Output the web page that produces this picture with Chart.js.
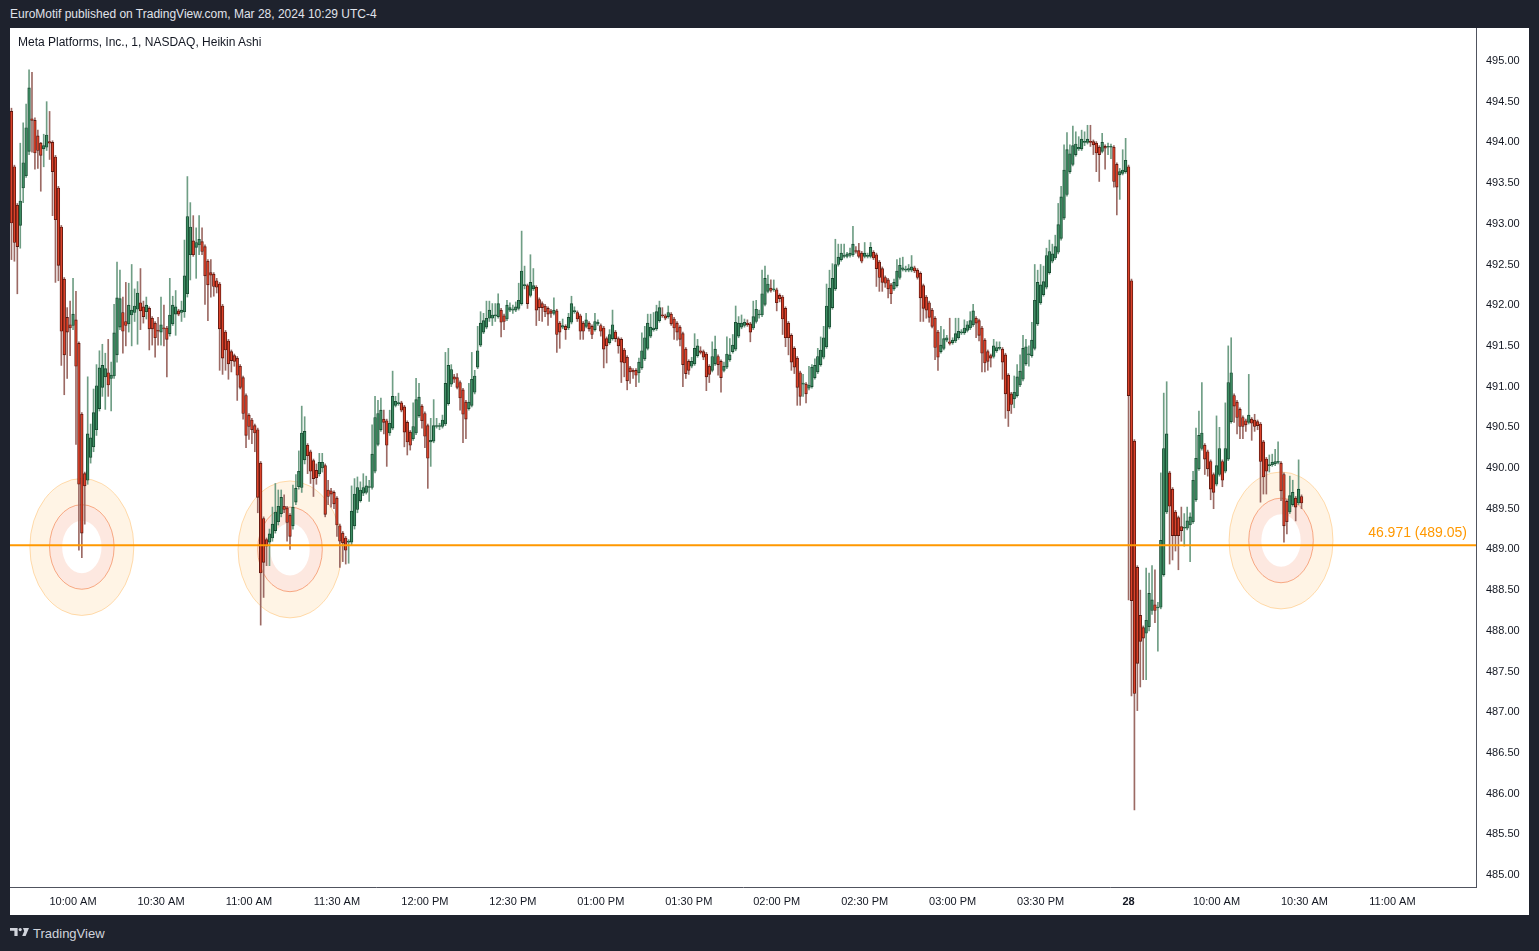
<!DOCTYPE html>
<html>
<head>
<meta charset="utf-8">
<title>Meta Platforms, Inc., 1, NASDAQ, Heikin Ashi</title>
<script src="https://cdn.jsdelivr.net/npm/chart.js@4.4.1/dist/chart.umd.min.js"></script>
<style>
  html, body { margin:0; padding:0; width:1539px; height:951px; background:#1e222d; overflow:hidden; font-family:"Liberation Sans", Arial, sans-serif; }
  #hdr { position:absolute; left:10px; top:6px; font-size:12px; line-height:16px; color:#e0e3eb; white-space:nowrap; }
  #panel { position:absolute; left:10px; top:28px; width:1519px; height:887px; background:#ffffff; }
  #panel canvas { position:absolute; left:0; top:0; }
  #title { position:absolute; left:8px; top:7px; font-size:12px; line-height:14px; color:#131722; white-space:nowrap; }
  #foot { position:absolute; left:10px; top:925px; height:16px; display:flex; align-items:center; color:#d1d4dc; font-size:13px; }
  #foot svg { margin-right:4px; margin-top:-2px; }
</style>
</head>
<body>
<div id="hdr">EuroMotif published on TradingView.com, Mar 28, 2024 10:29 UTC-4</div>
<div id="panel"><canvas id="c" width="1519" height="887"></canvas><div id="title">Meta Platforms, Inc., 1, NASDAQ, Heikin Ashi</div></div>
<div id="foot"><svg width="19" height="8" viewBox="0 0 19 8"><path d="M0 0H7.6V8H4.4V2.8H0Z" fill="#d1d4dc"/><circle cx="10.2" cy="1.6" r="1.6" fill="#d1d4dc"/><path d="M13 0H19L15.6 8H12.2L14.2 3.2Z" fill="#d1d4dc"/></svg><span>TradingView</span></div>
<script>
// ---- Heikin Ashi 1-minute candles, Mar 27 (09:39 - 15:59) ----
const openD1 = [
494.38,493.70,493.23,492.98,493.44,493.59,493.89,494.29,494.27,494.08,
493.99,493.92,493.94,494.01,494.00,493.82,493.44,492.96,492.32,491.85,
491.76,491.75,491.82,491.53,490.66,489.93,489.85,490.13,490.26,490.47,
490.73,490.99,491.12,491.17,491.10,491.13,491.39,491.73,491.91,491.80,
491.77,491.88,491.91,491.95,492.03,491.98,491.92,491.96,491.84,491.78,
491.69,491.67,491.72,491.72,491.65,491.77,491.89,491.93,491.91,491.92,
492.14,492.62,492.79,492.71,492.74,492.78,492.72,492.54,492.40,492.38,
492.30,492.26,491.99,491.67,491.56,491.43,491.38,491.35,491.25,
491.11,490.89,490.65,490.59,490.52,490.47,490.06,489.38,489.12,489.09,
489.14,489.23,489.34,489.44,489.53,489.51,489.42,489.29,489.58,489.77,
489.76,490.10,490.28,490.20,490.09,489.97,489.93,490.00,490.03,489.73,
489.72,489.70,489.63,489.29,489.20,489.14,489.09,489.09,489.29,489.49,
489.60,489.69,489.70,489.76,489.76,489.96,490.29,490.47,490.60,490.58,
490.43,490.49,490.77,490.79,490.80,490.75,490.56,490.44,490.36,490.43,
490.64,490.76,490.67,490.52,490.32,490.33,490.51,490.51,490.51,490.54,
490.79,491.03,491.12,491.11,491.05,490.96,490.81,490.73,490.77,490.93,
491.24,491.51,491.67,491.73,491.84,
491.84,491.87,491.86,491.94,491.87,491.83,491.94,491.94,491.94,491.96,
492.02,492.24,492.24,492.12,492.20,492.22,492.07,492.02,491.99,491.96,
491.93,491.90,491.93,491.78,491.73,491.74,491.72,491.79,491.92,491.91,
491.87,491.78,491.74,491.78,491.74,491.70,491.77,491.75,491.72,491.59,
491.54,491.59,491.67,491.59,491.58,491.45,491.36,491.23,491.20,491.20,
491.17,491.23,491.34,491.47,491.62,491.70,491.71,491.81,491.88,491.87,
491.86,491.89,491.83,491.78,491.73,491.65,491.46,491.31,491.25,491.28,
491.38,491.44,491.43,491.40,491.25,491.20,491.28,491.37,491.31,491.20,
491.24,491.33,
491.43,491.46,491.62,491.73,491.75,491.78,491.77,491.72,491.80,491.88,
491.88,492.01,492.17,492.21,492.19,492.19,492.12,492.10,491.96,491.78,
491.63,491.47,491.35,491.17,491.03,491.03,490.98,491.00,491.11,491.18,
491.27,491.36,491.49,491.73,491.97,492.20,492.50,492.56,492.60,492.60,
492.61,492.62,492.67,492.67,492.64,492.60,492.60,492.60,492.65,492.62,
492.53,492.45,492.34,492.31,492.25,492.20,492.24,492.34,492.44,492.43,
492.43,492.43,492.46,492.43,492.39,492.24,492.10,492.03,491.94,491.84,
491.67,491.43,491.47,491.57,491.55,491.54,491.56,491.60,491.66,491.66,
491.69,
491.72,491.76,491.84,491.81,491.72,491.57,491.43,491.38,491.37,491.44,
491.47,491.46,491.39,491.14,490.91,490.85,490.89,491.02,491.09,491.28,
491.39,491.38,491.47,491.77,492.03,492.13,492.22,492.40,492.54,492.58,
492.65,492.82,493.07,493.36,493.64,493.73,493.85,493.92,493.92,494.00,
494.00,494.01,494.01,493.99,493.94,493.89,493.95,493.94,493.94,493.94,
493.73,493.60,493.62,493.64
];
const highD1 = [
494.42,493.72,493.25,493.99,494.24,494.47,494.89,494.86,494.30,494.15,
494.00,494.10,494.50,494.38,494.02,493.84,493.46,492.98,492.34,491.97,
492.05,492.33,492.17,491.55,490.68,489.95,491.12,490.54,490.97,491.27,
491.44,491.52,491.41,491.58,491.30,492.01,492.53,492.43,492.10,492.28,
492.27,492.50,492.20,492.29,492.45,492.05,492.10,491.98,491.86,491.80,
491.85,492.10,492.00,491.74,492.33,492.11,492.18,491.95,492.05,492.80,
493.58,493.26,493.10,492.95,493.10,492.95,492.74,492.56,492.56,492.40,
492.33,492.28,492.01,491.69,491.58,491.45,491.40,491.37,491.27,
491.13,490.91,490.67,490.61,490.54,490.49,490.08,489.40,489.14,489.25,
489.52,489.81,489.73,489.73,489.67,489.53,489.44,489.79,489.92,490.21,
490.76,490.63,490.30,490.22,490.11,490.05,490.18,490.18,490.05,489.85,
489.75,489.72,489.65,489.31,489.22,489.16,489.12,489.78,489.87,489.89,
489.83,489.93,489.90,489.85,490.53,490.88,490.83,490.86,490.71,490.60,
490.71,491.19,490.88,490.92,490.82,490.77,490.58,490.46,490.80,491.10,
491.04,490.78,490.69,490.54,490.61,490.84,490.61,490.55,490.65,491.42,
491.47,491.27,491.15,491.16,491.07,490.98,490.83,491.04,491.42,491.20,
491.74,491.92,491.90,492.05,492.05,
492.02,492.02,492.14,491.96,491.89,492.06,492.03,492.00,492.04,492.27,
492.91,492.48,492.26,492.62,492.45,492.24,492.09,492.04,492.01,491.98,
491.95,492.09,491.95,491.80,491.83,491.76,491.90,492.11,491.98,491.93,
491.89,491.80,491.90,491.80,491.76,491.90,491.82,491.77,491.74,491.61,
491.70,491.94,491.69,491.61,491.60,491.47,491.38,491.25,491.22,491.22,
491.35,491.66,491.74,491.89,491.89,491.91,492.00,492.05,491.97,491.89,
491.99,491.91,491.85,491.80,491.75,491.67,491.48,491.33,491.36,491.65,
491.58,491.49,491.45,491.42,491.27,491.55,491.62,491.39,491.33,491.30,
491.61,491.59,
491.64,491.99,491.86,491.88,491.83,491.82,491.79,492.05,492.06,491.94,
492.43,492.48,492.37,492.31,492.31,492.21,492.14,492.12,491.98,491.80,
491.65,491.49,491.37,491.19,491.15,491.05,491.25,491.27,491.34,491.47,
491.61,491.74,492.26,492.43,492.51,492.81,492.75,492.75,492.75,492.65,
492.70,492.97,492.72,492.76,492.66,492.77,492.64,492.77,492.67,492.64,
492.55,492.47,492.36,492.33,492.27,492.32,492.56,492.58,492.59,492.48,
492.50,492.61,492.48,492.45,492.41,492.26,492.12,492.05,491.96,491.86,
491.69,491.74,491.70,491.63,491.84,491.60,491.84,491.84,491.70,491.82,
491.80,
491.92,492.01,491.86,491.83,491.74,491.59,491.45,491.40,491.58,491.55,
491.55,491.48,491.41,491.16,490.93,491.13,491.27,491.39,491.63,491.58,
491.50,491.79,492.50,492.43,492.50,492.48,492.70,492.80,492.75,492.86,
493.25,493.46,493.97,494.12,493.97,494.20,494.13,494.07,494.15,494.13,
494.21,494.21,494.03,494.01,493.96,494.11,493.97,493.99,493.98,493.96,
493.75,493.68,493.91,494.05
];
const lowD1 = [
492.56,492.54,492.14,492.70,493.26,493.57,493.85,493.88,493.67,493.68,
493.40,493.70,493.90,493.79,493.10,492.28,492.30,491.26,490.90,491.10,
491.38,491.70,490.29,488.99,488.90,489.31,489.80,490.06,490.20,490.40,
490.70,490.88,490.72,490.88,490.70,491.10,491.30,491.70,491.41,491.50,
491.67,491.50,491.80,491.52,491.70,491.78,491.83,491.45,491.51,491.36,
491.51,491.51,491.50,491.12,491.62,491.75,491.63,491.87,491.80,491.85,
492.10,492.31,492.60,492.33,492.62,492.62,492.01,491.81,492.10,492.11,
492.15,491.20,491.15,491.20,491.09,491.18,491.25,490.83,490.97,
490.60,490.25,490.35,490.30,490.20,489.45,488.07,488.41,488.80,488.80,
489.10,489.20,489.30,489.40,489.45,489.10,489.00,489.25,489.55,489.74,
489.70,490.05,489.93,489.81,489.65,489.80,489.90,489.95,489.40,489.55,
489.52,489.50,489.16,488.78,488.85,488.82,488.83,489.05,489.25,489.45,
489.58,489.66,489.68,489.59,489.74,489.94,490.27,490.45,490.42,490.02,
490.40,490.47,490.75,490.77,490.69,490.26,490.16,490.22,490.34,490.41,
490.62,490.49,490.25,489.75,490.02,490.31,490.49,490.47,490.49,490.52,
490.77,491.00,491.05,490.97,490.71,490.31,490.36,490.71,490.75,490.91,
491.22,491.49,491.65,491.71,491.80,
491.75,491.80,491.84,491.61,491.70,491.81,491.92,491.90,491.92,491.94,
492.00,492.20,491.96,492.10,492.18,491.75,491.81,491.80,491.86,491.75,
491.85,491.88,491.42,491.47,491.71,491.58,491.70,491.77,491.90,491.80,
491.58,491.58,491.72,491.68,491.59,491.68,491.75,491.62,491.23,491.29,
491.52,491.57,491.55,491.41,491.05,491.12,490.96,491.04,491.10,491.00,
491.05,491.21,491.32,491.45,491.60,491.68,491.69,491.79,491.85,491.82,
491.84,491.75,491.58,491.57,491.50,491.00,491.10,491.15,491.23,491.26,
491.36,491.40,491.33,490.95,491.05,491.18,491.26,491.14,490.93,491.18,
491.22,491.31,
491.41,491.44,491.60,491.71,491.73,491.74,491.55,491.70,491.78,491.84,
491.86,491.99,492.15,492.16,492.17,491.93,492.04,491.64,491.49,491.39,
491.20,491.16,490.77,490.77,490.88,490.80,490.96,490.98,491.09,491.16,
491.25,491.34,491.47,491.71,491.95,492.18,492.48,492.54,492.58,492.58,
492.59,492.60,492.64,492.58,492.52,492.58,492.58,492.58,492.56,492.23,
492.17,492.17,492.22,492.09,492.02,492.18,492.22,492.32,492.42,492.41,
492.41,492.41,492.40,492.32,491.80,491.80,491.84,491.79,491.72,491.33,
491.20,491.41,491.45,491.55,491.51,491.52,491.54,491.58,491.64,491.64,
491.67,
491.70,491.74,491.60,491.56,491.18,491.18,491.20,491.24,491.35,491.42,
491.45,491.09,490.61,490.51,490.67,490.74,490.87,491.00,491.07,491.26,
491.25,491.36,491.45,491.75,492.01,492.11,492.20,492.38,492.52,492.56,
492.63,492.80,493.05,493.34,493.62,493.71,493.83,493.90,493.90,493.96,
493.98,493.95,493.85,493.64,493.52,493.87,493.67,493.85,493.80,493.45,
493.11,493.30,493.60,493.62
];
const closeD1 = [
493.01,492.77,492.72,493.28,493.75,494.18,494.67,494.27,493.87,493.90,
493.84,493.96,494.09,493.99,493.64,493.05,492.49,491.68,491.39,491.67,
491.72,491.89,491.25,489.80,489.20,489.78,490.42,490.37,490.68,491.01,
491.23,491.26,491.22,491.02,491.14,491.66,492.09,492.08,491.68,491.75,
492.00,491.94,491.99,492.15,491.93,491.86,492.00,491.71,491.71,491.60,
491.68,491.76,491.71,491.58,491.88,492.00,491.98,491.89,491.94,492.36,
493.09,492.96,492.62,492.77,492.81,492.66,492.36,492.25,492.37,492.23,
492.22,491.71,491.35,491.45,491.28,491.32,491.31,491.14,490.99,
490.67,490.40,490.51,490.47,490.43,489.64,488.71,488.84,489.04,489.19,
489.31,489.46,489.53,489.64,489.49,489.33,489.16,489.52,489.75,489.96,
490.43,490.45,490.15,489.96,489.87,489.88,490.07,490.07,489.43,489.65,
489.68,489.56,489.30,489.10,489.08,488.99,489.10,489.47,489.68,489.76,
489.73,489.76,489.78,489.76,490.17,490.62,490.67,490.71,490.56,490.28,
490.55,490.88,490.82,490.80,490.71,490.44,490.32,490.28,490.51,490.84,
490.87,490.58,490.39,490.12,490.34,490.52,490.52,490.51,490.59,491.04,
491.26,491.21,491.09,490.99,490.86,490.66,490.60,490.81,491.09,491.13,
491.44,491.78,491.81,491.84,491.94,
491.88,491.87,492.02,491.79,491.80,492.00,491.97,491.94,491.98,492.06,
492.42,492.25,492.02,492.28,492.24,491.94,491.97,491.97,491.92,491.89,
491.90,491.94,491.64,491.67,491.75,491.70,491.85,492.02,491.93,491.83,
491.68,491.68,491.82,491.71,491.64,491.80,491.79,491.68,491.46,491.50,
491.64,491.76,491.59,491.50,491.30,491.29,491.07,491.18,491.18,491.14,
491.30,491.44,491.60,491.78,491.73,491.72,491.92,491.97,491.87,491.84,
491.91,491.77,491.72,491.67,491.58,491.27,491.16,491.20,491.31,491.47,
491.50,491.42,491.36,491.12,491.15,491.37,491.46,491.27,491.11,491.25,
491.40,491.39,
491.51,491.79,491.78,491.78,491.79,491.76,491.67,491.86,491.95,491.88,
492.14,492.33,492.26,492.18,492.19,492.03,492.08,491.83,491.60,491.60,
491.30,491.24,490.99,490.88,491.03,490.91,491.02,491.24,491.26,491.37,
491.45,491.60,491.99,492.21,492.33,492.50,492.59,492.64,492.60,492.63,
492.64,492.75,492.66,492.60,492.54,492.64,492.60,492.71,492.58,492.45,
492.34,492.28,492.27,492.20,492.14,492.28,492.42,492.49,492.46,492.43,
492.45,492.47,492.42,492.34,492.09,491.96,491.94,491.85,491.74,491.48,
491.36,491.51,491.59,491.60,491.53,491.57,491.65,491.68,491.66,491.72,
491.76,
491.81,491.93,491.78,491.63,491.41,491.29,491.31,491.35,491.50,491.48,
491.48,491.30,490.91,490.70,490.78,490.93,491.12,491.19,491.47,491.49,
491.39,491.57,492.06,492.28,492.25,492.29,492.61,492.66,492.63,492.72,
492.99,493.33,493.66,493.91,493.86,493.96,493.98,493.94,494.04,494.00,
494.04,494.00,493.97,493.87,493.85,494.00,493.93,493.94,493.94,493.52,
493.45,493.64,493.66,493.78
];
// ---- Mar 28 (09:30 - 10:29) ----
const openD2 = [
493.70,492.30,490.33,488.78,488.19,488.04,487.97,488.05,488.25,488.32,
488.28,488.29,488.69,489.46,489.94,489.74,489.46,489.39,489.28,489.26,
489.26,489.30,489.34,489.61,489.99,490.24,490.28,490.20,490.08,489.92,
489.80,489.92,490.08,489.96,490.11,490.57,490.89,490.81,490.72,490.62,
490.58,490.56,490.60,490.59,490.57,490.54,490.32,490.11,490.03,490.04,
490.05,490.07,490.06,489.92,489.59,489.46,489.55,489.63,489.57,489.65
];
const highD2 = [
493.72,492.32,490.35,488.80,488.50,488.06,488.77,488.71,488.80,488.75,
488.35,489.94,490.92,491.06,489.96,489.76,489.48,489.41,489.52,489.44,
489.52,489.45,489.96,490.49,490.70,491.05,490.30,490.22,490.10,489.94,
490.64,490.50,490.10,490.80,491.50,491.60,490.91,490.83,490.74,490.64,
490.60,491.15,490.62,490.66,490.59,490.56,490.34,490.13,490.16,490.17,
490.23,490.32,490.08,489.94,489.61,489.90,489.85,489.65,490.10,489.67
];
const lowD2 = [
488.38,487.20,485.80,487.02,487.31,487.40,487.40,488.00,488.20,488.10,
487.75,488.27,488.67,489.44,488.82,488.87,488.98,488.75,489.10,489.04,
489.24,488.85,489.32,489.59,489.97,490.22,489.92,489.90,489.61,489.50,
489.78,489.90,489.77,489.94,490.09,490.55,490.56,490.42,490.36,490.36,
490.45,490.54,490.34,490.45,490.47,489.58,489.68,489.68,489.95,490.02,
490.03,490.05,489.60,489.09,489.19,489.44,489.53,489.35,489.55,489.50
];
const closeD2 = [
490.89,488.37,487.23,487.60,487.87,487.91,488.13,488.46,488.38,488.25,
488.28,489.11,490.24,490.42,489.53,489.17,489.17,489.17,489.23,489.26,
489.35,489.40,489.85,490.12,490.40,490.43,490.11,489.99,489.74,489.70,
490.03,490.24,489.85,490.24,491.05,491.17,490.76,490.62,490.51,490.51,
490.53,490.65,490.55,490.51,490.52,490.08,489.89,489.96,490.03,490.07,
490.08,490.07,489.72,489.29,489.34,489.66,489.70,489.52,489.74,489.57
];

// ---- axes ----
const xTickTimes = ["27 10:00","27 10:30","27 11:00","27 11:30","27 12:00","27 12:30","27 13:00","27 13:30",
                    "27 14:00","27 14:30","27 15:00","27 15:30","28 09:30","28 10:00","28 10:30","28 11:00"];
const xTickText  = ["10:00 AM","10:30 AM","11:00 AM","11:30 AM","12:00 PM","12:30 PM","01:00 PM","01:30 PM",
                    "02:00 PM","02:30 PM","03:00 PM","03:30 PM","28","10:00 AM","10:30 AM","11:00 AM"];
const yTicks = [485.00,485.50,486.00,486.50,487.00,487.50,488.00,488.50,489.00,489.50,490.00,
                490.50,491.00,491.50,492.00,492.50,493.00,493.50,494.00,494.50,495.00];

// ---- drawings ----
const levelPrice = 489.05;
const levelText = "46.971 (489.05)";
const circleTimes = ["27 10:03","27 11:14","28 10:22"];
const circlePrices = [489.03, 489.00, 489.11];

// one category slot per minute (session gap collapsed, empty future slots on the right)
function hhmm(m){ return String(Math.floor(m/60)).padStart(2,'0') + ':' + String(m%60).padStart(2,'0'); }
const slots = [];
for (let m = 9*60+39; m < 16*60; m++) slots.push('27 ' + hhmm(m));
for (let m = 9*60+30; slots.length < 500; m++) slots.push('28 ' + hhmm(m));

const O = openD1.concat(openD2), H = highD1.concat(highD2), L = lowD1.concat(lowD2), C = closeD1.concat(closeD2);
const bodies = O.map((o, i) => [o, C[i]]);
const wicks = L.map((l, i) => [l, H[i]]);
const up = O.map((o, i) => C[i] >= o);

const FONT = '"Liberation Sans", Arial, sans-serif';

const drawings = {
  id: 'drawings',
  beforeDatasetsDraw(chart) {
    const {ctx, chartArea: a} = chart, x = chart.scales.x, y = chart.scales.y;
    ctx.save();
    ctx.beginPath(); ctx.rect(a.left, a.top, a.right - a.left, a.bottom - a.top); ctx.clip();
    circleTimes.forEach((t, i) => {
      const cx = x.getPixelForValue(slots.indexOf(t)), cy = y.getPixelForValue(circlePrices[i]);
      ctx.beginPath();
      ctx.ellipse(cx, cy, 52, 68.5, 0, 0, Math.PI * 2);
      ctx.moveTo(cx + 32.3, cy);
      ctx.ellipse(cx, cy, 32.3, 42.3, 0, 0, Math.PI * 2);
      ctx.fillStyle = 'rgba(255,152,0,0.10)';
      ctx.fill('evenodd');
      ctx.beginPath(); ctx.ellipse(cx, cy, 52, 68.5, 0, 0, Math.PI * 2);
      ctx.strokeStyle = 'rgba(255,160,40,0.35)'; ctx.lineWidth = 1; ctx.stroke();
      ctx.beginPath();
      ctx.ellipse(cx, cy, 32.3, 42.3, 0, 0, Math.PI * 2);
      ctx.moveTo(cx + 19.7, cy);
      ctx.ellipse(cx, cy, 19.7, 26.2, 0, 0, Math.PI * 2);
      ctx.fillStyle = 'rgba(242,100,50,0.15)';
      ctx.fill('evenodd');
      ctx.beginPath(); ctx.ellipse(cx, cy, 32.3, 42.3, 0, 0, Math.PI * 2);
      ctx.strokeStyle = 'rgba(240,110,50,0.55)'; ctx.lineWidth = 1; ctx.stroke();
    });
    ctx.restore();
  },
  afterDatasetsDraw(chart) {
    const {ctx, chartArea: a} = chart, y = chart.scales.y;
    const ly = y.getPixelForValue(levelPrice);
    ctx.save();
    ctx.strokeStyle = '#ff9800'; ctx.lineWidth = 2;
    ctx.beginPath(); ctx.moveTo(a.left, ly); ctx.lineTo(a.right, ly); ctx.stroke();
    ctx.font = '14px ' + FONT; ctx.fillStyle = '#ff9800';
    ctx.textAlign = 'right'; ctx.textBaseline = 'middle';
    ctx.fillText(levelText, a.right - 9, ly - 12.5);
    ctx.restore();
  }
};

function noPad(s) { s.paddingTop = 0; s.paddingBottom = 0; s.paddingLeft = 0; s.paddingRight = 0; }

new Chart(document.getElementById('c'), {
  type: 'bar',
  data: {
    labels: slots,
    datasets: [
      { label: 'body', data: bodies, order: 0, grouped: false, barThickness: 2.7,
        borderWidth: 0.9, borderSkipped: false, minBarLength: 1,
        backgroundColor: up.map(u => u ? '#3f8d64' : '#dc432b'),
        borderColor: up.map(u => u ? '#174a30' : '#5c170f') },
      { label: 'wick', data: wicks, order: 1, grouped: false, barThickness: 1, borderWidth: 0,
        backgroundColor: up.map(u => u ? '#6f9e85' : '#9c6a64') }
    ]
  },
  options: {
    responsive: false, animation: false, devicePixelRatio: 1, events: [],
    layout: { padding: 0 },
    plugins: { legend: { display: false }, tooltip: { enabled: false } },
    scales: {
      x: {
        type: 'category', offset: true,
        grid: { display: false, drawTicks: false },
        border: { display: true, color: '#50535e', width: 1 },
        afterBuildTicks: s => { s.ticks = xTickTimes.map(t => ({ value: slots.indexOf(t) })); },
        afterFit: s => { s.height = 28; noPad(s); },
        ticks: {
          autoSkip: false, maxRotation: 0, minRotation: 0, padding: 8, color: '#131722',
          font: ctx => ({ family: FONT, size: 11, weight: (ctx.tick && ctx.tick.label === '28') ? 'bold' : 'normal' }),
          callback: function (v) { const k = xTickTimes.indexOf(this.getLabelForValue(v)); return k >= 0 ? xTickText[k] : ''; }
        }
      },
      y: {
        position: 'right', min: 484.853, max: 495.405,
        grid: { display: false, drawTicks: false },
        border: { display: true, color: '#50535e', width: 1 },
        afterBuildTicks: s => { s.ticks = yTicks.map(v => ({ value: v })); },
        afterFit: s => { s.width = 53; noPad(s); },
        ticks: { autoSkip: false, padding: 10, color: '#131722', font: { family: FONT, size: 11 },
                 callback: v => Number(v).toFixed(2) }
      }
    }
  },
  plugins: [drawings]
});
</script>
</body>
</html>
